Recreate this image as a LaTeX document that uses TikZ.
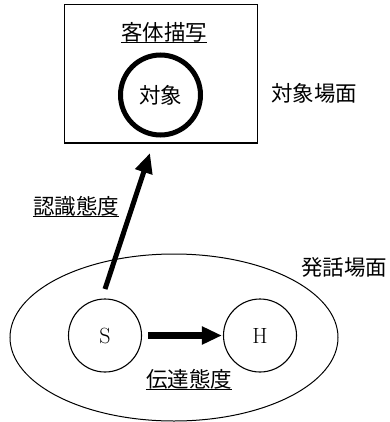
\documentclass[tikz,border=0pt]{standalone}
\usepackage{fontspec}
\newfontfamily\jp{Noto Sans CJK JP}
\usetikzlibrary{arrows.meta,shapes.geometric}
\newcommand\jpbig{\jp\fontsize{21.5}{24}\selectfont}
\newcommand\lmbig{\fontsize{22}{24}\selectfont}
\begin{document}
\begin{tikzpicture}[x=1pt,y=-1pt,
  jtext/.style={font=\jpbig, inner sep=0pt},
  uline/.style={line width=1.4pt},
  person/.style={circle, draw, line width=1.1pt, minimum size=73pt, inner sep=0pt, font=\lmbig},
  bigarrow/.style={line width=5pt, -{Triangle[length=20pt,width=17pt]}}]
\useasboundingbox (0,0) rectangle (389,422);
\node[draw, line width=1pt, minimum width=193pt, minimum height=138pt, inner sep=0pt] (box) at (160.5,74) {};
\node[jtext] (title) at (164,32) {客体描写};
\draw[uline] ([yshift=-0.5pt]title.south west) -- ([yshift=-0.5pt]title.south east);
\node[circle, draw, line width=5pt, minimum size=80pt, inner sep=0pt, jtext] (obj) at (160.5,95) {対象};
\node[jtext] (objscene) at (314,93) {対象場面};
\node[ellipse, draw, line width=1pt, minimum width=328pt, minimum height=167pt, inner sep=0pt] (scene) at (174,337.5) {};
\node[jtext] (talkscene) at (344,267) {発話場面};
\node[person] (S) at (105,335.5) {S};
\node[person] (H) at (260,335.5) {H};
\node[jtext] (recog) at (76,206) {認識態度};
\draw[uline] ([yshift=-0.5pt]recog.south west) -- ([yshift=-0.5pt]recog.south east);
\node[jtext] (trans) at (189,379) {伝達態度};
\draw[uline] ([yshift=-0.5pt]trans.south west) -- ([yshift=-0.5pt]trans.south east);
\coordinate (tail) at (105,289);
\coordinate (tip) at (150,153);
\draw[bigarrow] (tail) -- (tip);
\draw[bigarrow, line width=6.5pt, shorten <=6pt, shorten >=1pt] (S) -- (H);
\end{tikzpicture}
\end{document}
